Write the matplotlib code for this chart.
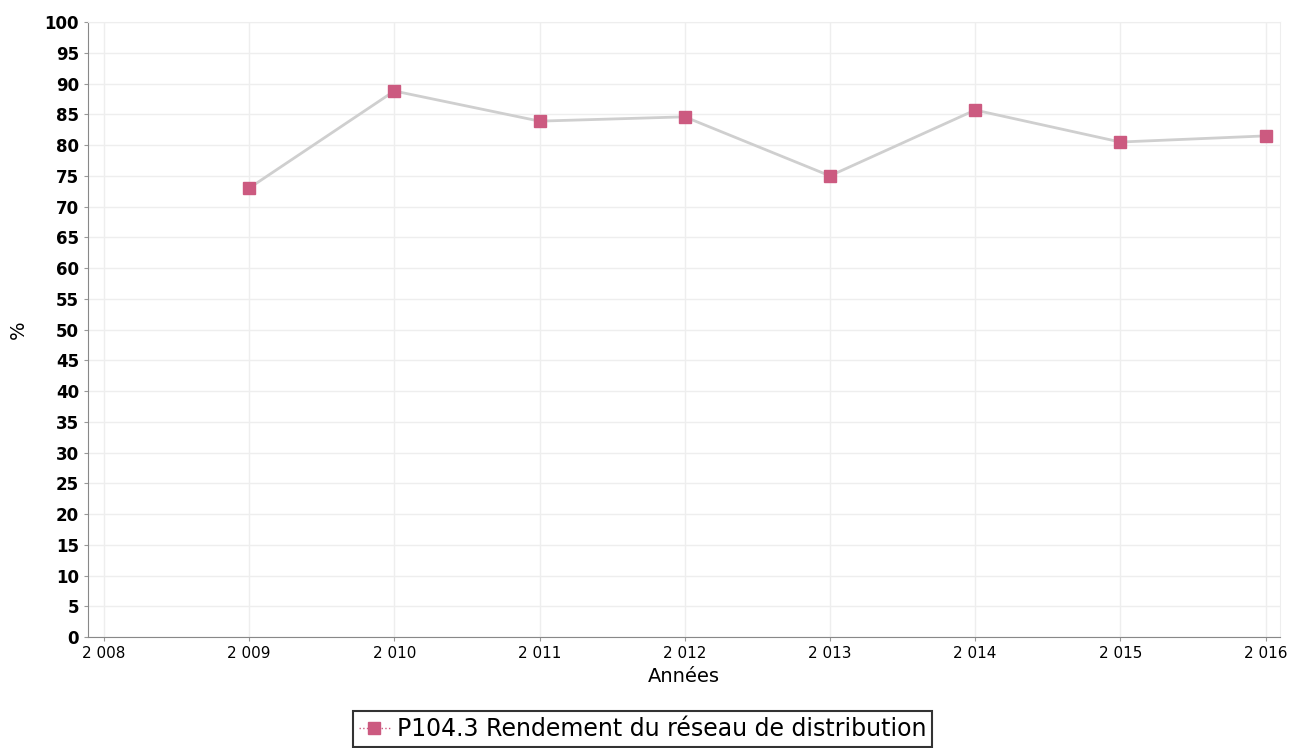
import matplotlib
matplotlib.use("Agg")
import matplotlib.pyplot as plt
from matplotlib.lines import Line2D

# Données
annees = [2009, 2010, 2011, 2012, 2013, 2014, 2015, 2016]
rendement = [73.0, 88.8, 83.9, 84.6, 75.0, 85.7, 80.5, 81.5]
ticks_x = [2008, 2009, 2010, 2011, 2012, 2013, 2014, 2015, 2016]
labels_x = ["2 008", "2 009", "2 010", "2 011", "2 012", "2 013", "2 014", "2 015", "2 016"]
ticks_y = list(range(0, 101, 5))
serie = "P104.3 Rendement du réseau de distribution"

couleur_ligne = "#cfcfcf"
couleur_point = "#cc5a80"

fig = plt.figure(figsize=(12.93, 7.48), dpi=100)
ax = fig.add_axes([0.068, 0.1484, 0.922, 0.822])

ax.plot(annees, rendement, color=couleur_ligne, linewidth=2, zorder=2)
ax.plot(annees, rendement, linestyle="none", marker="s", markersize=8,
        color=couleur_point, zorder=3)

ax.set_xlim(2007.89, 2016.1)
ax.set_ylim(0, 100)
ax.set_xticks(ticks_x)
ax.set_xticklabels(labels_x)
ax.set_yticks(ticks_y)
ax.tick_params(axis="x", labelsize=11, length=3, color="#999999")
ax.tick_params(axis="y", labelsize=12, length=3, color="#999999")
for lab in ax.get_yticklabels():
    lab.set_fontweight("bold")

ax.grid(True, color="#eeeeee", linewidth=1)
ax.set_axisbelow(True)
for side in ["top", "right"]:
    ax.spines[side].set_color("#eeeeee")
for side in ["left", "bottom"]:
    ax.spines[side].set_color("#888888")

ax.set_xlabel("Années", fontsize=14, labelpad=4)
ax.set_ylabel("%", fontsize=14, labelpad=12)

poignee = Line2D([0], [0], color=couleur_point, linestyle=":", linewidth=1,
                 marker="s", markersize=8)
leg = fig.legend([poignee], [serie], loc="upper center", bbox_to_anchor=(0.497, 0.049),
                 fontsize=17, frameon=True, fancybox=False, handlelength=1.3,
                 handletextpad=0.3, borderpad=0.25, borderaxespad=0)
leg.get_frame().set_edgecolor("black")
leg.get_frame().set_linewidth(1.5)

fig.savefig("out.png", dpi=100)
